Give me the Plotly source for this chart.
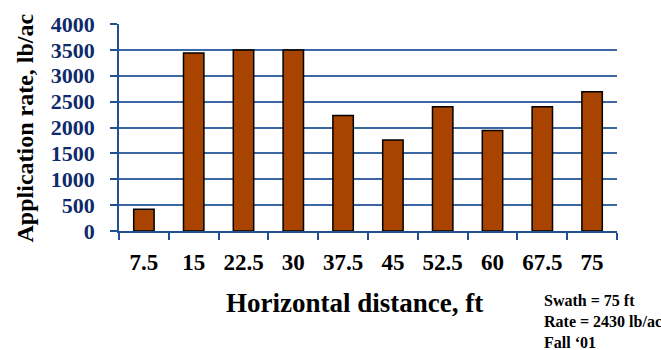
import plotly.graph_objects as go

# Horizontal distance across the swath (ft) and measured application rate (lb/ac)
distance_labels = ["7.5", "15", "22.5", "30", "37.5", "45", "52.5", "60", "67.5", "75"]
application_rate = [420, 3440, 3500, 3500, 2230, 1760, 2400, 1940, 2400, 2690]
y_ticks = [0, 500, 1000, 1500, 2000, 2500, 3000, 3500, 4000]

AXIS_BLUE = "#24508f"
GRID_BLUE = "#3b67a3"
LABEL_NAVY = "#0f2a6b"
SERIF = "Liberation Serif, Times New Roman, serif"

fig = go.Figure(
    go.Bar(
        x=distance_labels,
        y=application_rate,
        marker=dict(color="#a84300", line=dict(color="#000000", width=1.5)),
        width=0.41,
    )
)

fig.update_layout(
    width=661,
    height=350,
    margin=dict(l=119, r=44, t=17, b=119),
    paper_bgcolor="white",
    plot_bgcolor="white",
    showlegend=False,
    font=dict(family=SERIF),
)

fig.update_xaxes(
    type="category",
    showline=True,
    linecolor=AXIS_BLUE,
    linewidth=1.5,
    ticks="outside",
    tickson="boundaries",
    ticklen=7,
    tickcolor=AXIS_BLUE,
    tickwidth=1.5,
    showgrid=False,
    tickfont=dict(family=SERIF, size=23, color="#000000", weight="bold"),
    ticklabelstandoff=10,
)

fig.update_yaxes(
    range=[0, 4000],
    tickvals=y_ticks,
    showline=True,
    linecolor=AXIS_BLUE,
    linewidth=1.5,
    ticks="outside",
    ticklen=7,
    tickcolor=AXIS_BLUE,
    tickwidth=1.5,
    showgrid=True,
    gridcolor=GRID_BLUE,
    gridwidth=1.5,
    zeroline=False,
    tickfont=dict(family=SERIF, size=22, color=LABEL_NAVY, weight="bold"),
    ticklabelstandoff=11,
)

# Axis titles
fig.add_annotation(
    text="Horizontal distance, ft",
    xref="paper", yref="paper",
    x=(354 - 119) / 498, y=-(305 - 231) / 214,
    xanchor="center", yanchor="middle",
    showarrow=False,
    font=dict(family=SERIF, size=27, color="#000000", weight="bold"),
)
fig.add_annotation(
    text="Application rate, lb/ac",
    xref="paper", yref="paper",
    x=-(119 - 25) / 498, y=(231 - 125) / 214,
    xanchor="center", yanchor="middle",
    textangle=-90,
    showarrow=False,
    font=dict(family=SERIF, size=24, color="#000000", weight="bold"),
)

# Trial notes
fig.add_annotation(
    text="Swath = 75 ft<br>Rate = 2430 lb/ac<br>Fall \u201801",
    xref="paper", yref="paper",
    x=(542 - 119) / 498, y=-(292 - 231) / 214,
    xanchor="left", yanchor="top",
    align="left",
    showarrow=False,
    font=dict(family=SERIF, size=16, color="#000000", weight="bold"),
)

fig.write_html("out.html")
